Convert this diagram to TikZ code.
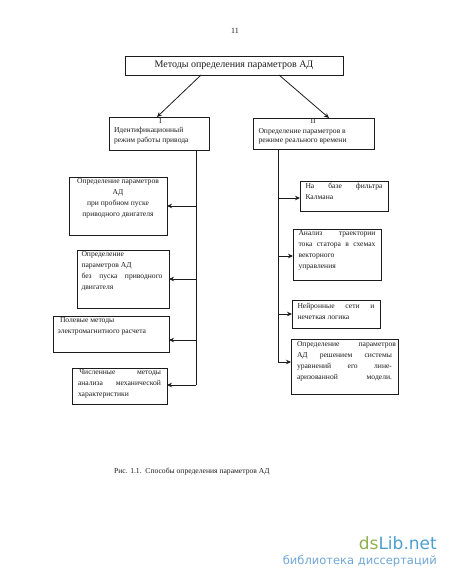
\documentclass[tikz,border=0pt]{standalone}
\usepackage{fontspec}
\setmainfont{Liberation Serif}
\newfontfamily\logofont{DejaVu Sans}
\usetikzlibrary{arrows.meta}
\definecolor{ink}{HTML}{1C1C1C}
\definecolor{logogreen}{HTML}{8FB04F}
\definecolor{logoblue}{HTML}{4D9FCF}
\definecolor{logosub}{HTML}{6FA6D6}
\tikzset{
  boxline/.style={draw=ink,line width=0.9pt,inner sep=0pt,outer sep=0pt,text=ink},
  trunk/.style={draw=ink,line width=1pt},
  arr/.style={draw=ink,line width=0.8pt,-{Stealth[length=5pt,width=4.5pt]}},
  txt/.style={inner sep=0pt,text=ink}
}
\newcommand{\jl}[1]{\leavevmode\hbox to \linewidth{#1}}
\newcommand{\tb}[9]{%
  \pgfmathsetmacro{\bw}{#4-#2}\pgfmathsetmacro{\bh}{#5-#3}%
  \pgfmathsetmacro{\cx}{(#2+#4)/2}\pgfmathsetmacro{\cy}{(#3+#5)/2}%
  \node[boxline,minimum width=\bw pt,minimum height=\bh pt] (#1) at (\cx,\cy)
    {\raisebox{#7pt}[0pt][0pt]{\makebox[0pt]{\hspace*{#6pt}\hspace*{#6pt}\parbox[c]{#8pt}{\fontsize{7.6}{11}\selectfont\raggedright #9}}}};
}
\begin{document}
\begin{tikzpicture}[x=1pt,y=-1pt]
\useasboundingbox (0,0) rectangle (450,580);
\node[txt,font=\fontsize{8}{10}\selectfont] (pg) at (235,31) {11};
\node[boxline,minimum width=218pt,minimum height=19pt,font=\fontsize{10}{12}\selectfont] (top) at (234,65.5) {Методы определения параметров АД};
\tb{bI}{109}{117}{209}{150}{-5}{0}{80}{\baselineskip=9.5pt\hspace*{45pt}I\\Идентификационный\\режим работы привода}
\tb{bII}{253}{118}{374}{149}{-8.5}{-0.5}{93}{\baselineskip=9.5pt\hspace*{52pt}II\\Определение параметров в\\режиме реального времени}
\tb{lA}{69}{177}{167}{235}{0}{5}{90}{\centering Определение параметров\\АД\\при пробном пуске\\приводного двигателя}
\tb{lB}{77}{250}{169}{308}{-1}{5}{81}{Определение\\параметров АД\\\jl{без\hfill пуска\hfill приводного}\\двигателя}
\tb{lC}{53}{316}{169}{352}{-6.3}{5}{94}{\hspace*{2.3pt}Полевые методы\\электромагнитного расчета}
\tb{lD}{72}{368}{167}{404}{0}{0}{83}{\jl{\hspace*{1.3pt}Численные\hfill методы}\\\jl{анализа\hfill механической}\\характеристики}
\tb{rA}{300}{181}{388}{211}{0}{2}{77}{\jl{На\hfill базе\hfill фильтра}\\Калмана}
\tb{rB}{293}{229}{381}{280}{0}{1.7}{77}{\jl{Анализ\hfill траектории}\\\jl{тока\hfill статора\hfill в\hfill схемах}\\векторного\\управления}
\tb{rC}{292}{300}{380}{328}{0}{0.5}{77}{\jl{Нейронные\hfill сети\hfill и}\\нечеткая логика}
\tb{rD}{291}{339}{398}{394}{2}{3}{99}{\jl{Определение\hfill параметров}\\\makebox[95pt][s]{АД\hfill решением\hfill системы}\\\makebox[95pt][s]{уравнений\hfill его\hfill лине-}\\\makebox[95pt][s]{аризованной\hfill модели.}}
\draw[arr] ([xshift=-33pt]top.south) -- ([xshift=-2pt]bI.north);
\draw[arr] ([xshift=45pt]top.south) -- ([xshift=15.5pt]bII.north);
\coordinate (jlA) at (196,206);
\coordinate (jlB) at (196,279);
\coordinate (jlC) at (196,340);
\coordinate (jlD) at (196,385);
\coordinate (jrA) at (278,198);
\coordinate (jrB) at (278,256);
\coordinate (jrC) at (278,314);
\coordinate (jrD) at (278,362);
\draw[trunk] (bI.south -| jlD) -- (jlD);
\draw[trunk] (bII.south -| jrD) -- (jrD);
\draw[arr] (jlA) -- (jlA -| lA.east);
\draw[arr] (jlB) -- (jlB -| lB.east);
\draw[arr] (jlC) -- (jlC -| lC.east);
\draw[arr] (jlD) -- (jlD -| lD.east);
\draw[arr] (jrA) -- (jrA -| rA.west);
\draw[arr] (jrB) -- (jrB -| rB.west);
\draw[arr] (jrC) -- (jrC -| rC.west);
\draw[arr] (jrD) -- (jrD -| rD.west);
\node[txt,anchor=base west,font=\fontsize{7.6}{10}\selectfont] (cap) at (114,473) {Рис. 1.1.\ \ Способы определения параметров АД};
\node[txt,anchor=base east,font=\logofont\fontsize{17}{20}\selectfont] (logo) at (437,549) {\textcolor{logogreen}{ds}\textcolor{logoblue}{Lib.net}};
\node[txt,anchor=base east,font=\logofont\fontsize{11.5}{14}\selectfont,text=logosub] (sub) at (437,564) {библиотека диссертаций};
\end{tikzpicture}
\end{document}
